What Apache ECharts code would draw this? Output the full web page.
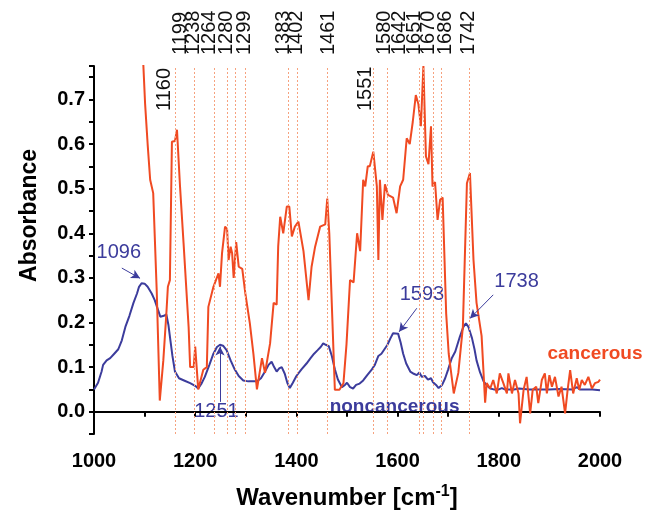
<!DOCTYPE html>
<html>
<head>
<meta charset="utf-8">
<script src="https://cdn.jsdelivr.net/npm/echarts@6/dist/echarts.min.js"></script>
<style>
  html, body { margin: 0; padding: 0; background: #fff; }
  #ech { width: 649px; height: 519px; }
</style>
</head>
<body>
<div id="ech"></div>
<script>
// noncancerous spectrum (wavenumber / absorbance)
var blueWn = [1000,1008,1015,1018,1025,1032,1040,1048,1055,1062,1070,1078,1085,1089,1094,1100,1106,1114,1120,1126,1131,1138,1143,1147,1151,1155,1160,1168,1178,1190,1200,1206,1212,1219,1228,1236,1243,1249,1255,1262,1270,1278,1286,1295,1305,1322,1330,1338,1345,1351,1356,1361,1366,1371,1377,1382,1387,1393,1400,1410,1420,1428,1435,1442,1448,1453,1458,1464,1470,1476,1482,1490,1496,1500,1506,1512,1518,1525,1532,1540,1548,1555,1562,1568,1574,1580,1586,1591,1601,1606,1611,1617,1625,1632,1638,1643,1648,1654,1660,1666,1670,1676,1681,1688,1694,1700,1707,1714,1723,1730,1735,1740,1747,1752,1756,1763,1770,1777,1783,1790,1800,1806,1812,1830,1840,1860,1880,1900,1920,1945,1955,1960,1985,2000];
var blueAbs = [0.05,0.065,0.09,0.105,0.115,0.12,0.13,0.14,0.16,0.19,0.215,0.244,0.265,0.28,0.288,0.287,0.28,0.265,0.25,0.23,0.213,0.215,0.218,0.195,0.16,0.125,0.09,0.075,0.07,0.064,0.058,0.052,0.062,0.078,0.105,0.13,0.145,0.15,0.148,0.138,0.115,0.095,0.08,0.07,0.068,0.068,0.075,0.09,0.105,0.112,0.1,0.09,0.097,0.1,0.085,0.065,0.053,0.065,0.08,0.095,0.108,0.12,0.13,0.138,0.145,0.153,0.15,0.147,0.125,0.095,0.072,0.055,0.06,0.065,0.055,0.052,0.06,0.063,0.07,0.082,0.093,0.105,0.125,0.13,0.14,0.15,0.165,0.176,0.175,0.155,0.13,0.108,0.09,0.085,0.082,0.088,0.078,0.08,0.072,0.075,0.066,0.06,0.053,0.06,0.075,0.095,0.12,0.135,0.168,0.19,0.198,0.19,0.165,0.14,0.115,0.088,0.068,0.058,0.052,0.05,0.05,0.053,0.05,0.05,0.052,0.05,0.05,0.05,0.051,0.05,0.055,0.05,0.05,0.048];

// cancerous spectrum
var redWn = [1085,1097,1101,1106,1111,1117,1124,1130,1137,1143,1146,1150,1154,1160,1164,1170,1177,1187,1190,1197,1200,1206,1216,1223,1226,1236,1246,1249,1253,1259,1263,1266,1270,1273,1276,1281,1286,1293,1299,1308,1315,1322,1332,1338,1348,1355,1361,1364,1368,1374,1381,1386,1391,1397,1404,1414,1424,1430,1437,1447,1457,1461,1465,1476,1485,1493,1499,1506,1513,1520,1526,1532,1536,1541,1545,1552,1559,1562,1565,1570,1575,1581,1591,1598,1605,1611,1618,1624,1630,1636,1641,1646,1651,1656,1661,1666,1669,1674,1679,1684,1689,1696,1701,1711,1720,1729,1737,1743,1750,1756,1766,1773,1776,1783,1789,1796,1802,1809,1816,1819,1826,1832,1839,1842,1849,1855,1862,1867,1874,1878,1885,1891,1895,1900,1905,1911,1918,1924,1931,1936,1941,1947,1954,1959,1964,1970,1977,1984,1990,1997,2000];
var redAbs = [0.98,0.79,0.69,0.6,0.52,0.49,0.27,0.025,0.115,0.22,0.28,0.295,0.605,0.607,0.632,0.505,0.378,0.19,0.1,0.1,0.146,0.05,0.094,0.1,0.235,0.28,0.31,0.28,0.355,0.415,0.41,0.34,0.37,0.355,0.3,0.38,0.325,0.32,0.266,0.198,0.13,0.05,0.12,0.087,0.153,0.244,0.24,0.37,0.437,0.4,0.46,0.46,0.393,0.415,0.426,0.36,0.25,0.325,0.37,0.415,0.42,0.478,0.4,0.049,0.049,0.064,0.151,0.295,0.29,0.4,0.36,0.52,0.505,0.55,0.55,0.583,0.505,0.34,0.52,0.43,0.51,0.486,0.48,0.445,0.505,0.52,0.613,0.6,0.65,0.71,0.69,0.64,0.775,0.572,0.555,0.64,0.505,0.515,0.43,0.475,0.48,0.22,0.13,0.041,0.087,0.19,0.512,0.535,0.34,0.244,0.17,0.02,0.064,0.052,0.071,0.041,0.086,0.064,0.041,0.086,0.041,0.071,0.041,-0.026,0.049,0.078,-0.004,0.049,0.056,0.019,0.071,0.086,0.041,0.082,0.056,0.078,0.034,0.056,-0.004,0.049,0.093,0.041,0.075,0.049,0.071,0.06,0.078,0.052,0.064,0.067,0.072];

// marked band positions (dotted lines) and where their labels sit
var bandWn    = [1160,1199,1238,1264,1280,1299,1383,1402,1461,1551,1580,1642,1651,1670,1686,1742];
var bandLabAt = [1140,1170,1196,1229,1262,1298,1374,1401,1463,1536,1575,1603,1634,1662,1694,1741];
var bandLow   = [1160,1551];

// peak annotations on the noncancerous curve
var peakText = ['1096','1251','1593','1738'];
var peakTextAt = [[1049,0.358],[1242,0.0],[1648,0.262],[1835,0.291]];
var arrowFrom  = [[1055,0.322],[1249,0.022],[1638,0.232],[1789,0.262]];
var arrowTo    = [[1091,0.299],[1249,0.146],[1603,0.179],[1743,0.209]];

var xTicks = [1000,1200,1400,1600,1800,2000];

var BLUE = '#3c3c9c', RED = '#f04a22', DOT = '#f6a27e';
var FONT = 'Liberation Sans, Arial, sans-serif';

function zip(a, b) { return a.map(function (v, i) { return [v, b[i]]; }); }

var ownChart = echarts.init(document.getElementById('ech'));
var option = {
    animation: false,
    grid: { left: 94, right: 49, top: 66, bottom: 85 },
    xAxis: {
        type: 'value', min: 1000, max: 2000, interval: 100,
        axisLine: { lineStyle: { color: '#000', width: 2 } },
        axisTick: { inside: false, length: 5, lineStyle: { color: '#000', width: 2 } },
        splitLine: { show: false },
        axisLabel: {
            margin: 17, color: '#000', fontSize: 20, fontWeight: 'bold', fontFamily: FONT,
            formatter: function (v) { return xTicks.indexOf(v) >= 0 ? String(v) : ''; }
        },
        name: 'Wavenumber [cm{sup|-1}]', nameLocation: 'middle', nameGap: 50,
        nameTextStyle: {
            color: '#000', fontSize: 24, fontWeight: 'bold', fontFamily: FONT,
            rich: { sup: { fontSize: 16, fontWeight: 'bold', fontFamily: FONT, color: '#000', verticalAlign: 'top', padding: [0, 0, 12, 0] } }
        }
    },
    yAxis: {
        type: 'value', min: -0.05, max: 0.775, interval: 0.05,
        axisLine: { show: true, lineStyle: { color: '#000', width: 2 } },
        axisTick: { show: true, length: 5, lineStyle: { color: '#000', width: 2 } },
        splitLine: { show: false },
        axisLabel: {
            margin: 9, color: '#000', fontSize: 20, fontWeight: 'bold', fontFamily: FONT,
            formatter: function (v) {
                var k = Math.round(v * 100);
                return (k >= 0 && k % 10 === 0) ? (k / 100).toFixed(1) : '';
            }
        }
    },
    series: [{
        name: 'noncancerous', type: 'line', data: zip(blueWn, blueAbs),
        showSymbol: false, clip: true,
        lineStyle: { color: BLUE, width: 2 },
        markLine: {
            silent: true, symbol: ['none', 'arrow'], symbolSize: [7, 9],
            label: { show: false },
            lineStyle: { color: BLUE, width: 1, type: 'solid' },
            data: arrowFrom.map(function (a, i) {
                return [{ coord: a }, { coord: arrowTo[i] }];
            })
        }
    }, {
        name: 'cancerous', type: 'line', data: zip(redWn, redAbs),
        showSymbol: false, clip: true, z: 3,
        lineStyle: { color: RED, width: 2 },
        markLine: {
            silent: true, symbol: 'none', label: { show: false },
            lineStyle: { color: DOT, width: 1, type: [2, 2] },
            data: bandWn.map(function (w) { return { xAxis: w }; })
        }
    }]
};
ownChart.setOption(option);

function px(p) { return ownChart.convertToPixel({ gridIndex: 0 }, p); }

var g = [];
// y axis title, sits a bit above the middle of the axis like the original
var yt = px([1000, 0.44]);
g.push({
    type: 'text', x: 30, y: yt[1], rotation: Math.PI / 2,
    style: { text: 'Absorbance', fill: '#000', font: 'bold 23px ' + FONT, align: 'center', verticalAlign: 'middle' }
});
bandWn.forEach(function (w, i) {
    var low = bandLow.indexOf(w) >= 0;
    g.push({
        type: 'text', x: px([bandLabAt[i], 0])[0], y: low ? 111 : 55, rotation: Math.PI / 2,
        style: { text: String(w), fill: '#111', font: '20px ' + FONT, align: 'left', verticalAlign: 'middle' }
    });
});
peakText.forEach(function (t, i) {
    var p = px(peakTextAt[i]);
    g.push({
        type: 'text', x: p[0], y: p[1],
        style: { text: t, fill: BLUE, font: '20px ' + FONT, align: 'center', verticalAlign: 'middle' }
    });
});
var nc = px([1594, 0.01]);
g.push({ type: 'text', x: nc[0], y: nc[1],
    style: { text: 'noncancerous', fill: BLUE, font: 'bold 19px ' + FONT, align: 'center', verticalAlign: 'middle' } });
var cc = px([1990, 0.129]);
g.push({ type: 'text', x: cc[0], y: cc[1],
    style: { text: 'cancerous', fill: RED, font: 'bold 19px ' + FONT, align: 'center', verticalAlign: 'middle' } });

ownChart.setOption({ graphic: g });
</script>
</body>
</html>
